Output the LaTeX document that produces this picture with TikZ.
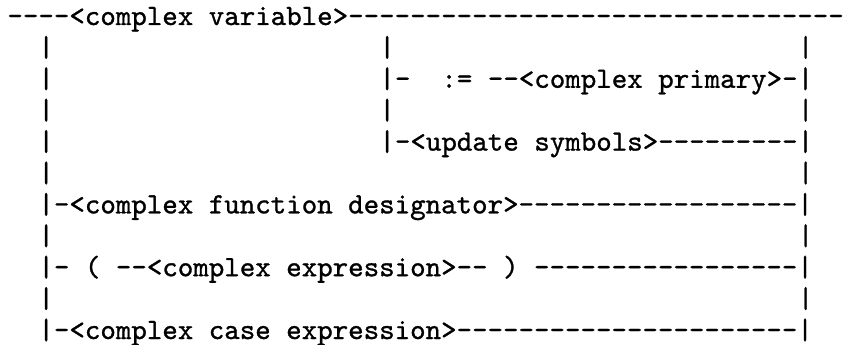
\documentclass[tikz,border=0pt]{standalone}
\usepackage{fontspec}
\setmonofont{lmmono10-regular.otf}[FakeBold=1]
\usepackage{tikz}
\usetikzlibrary{positioning}

% a run of typed hyphens
\newcommand{\hyphens}[1]{\foreach \i in {1,...,#1}{-}}

\begin{document}
\begin{tikzpicture}[x=15.5pt,y=-31.4pt,
    txt/.style={font=\ttfamily\fontsize{29.5}{30}\selectfont, inner sep=0pt, anchor=base west}]
  \useasboundingbox (-7.25pt,25pt) rectangle ++(846pt,-345pt);

  \node[txt] (cvar) at (0,0) {----<complex variable>\hyphens{32}};

  % rails
  \foreach \r in {1,3}
    \foreach \c in {2,24,51}
      \node[txt] (p-\r-\c) at (\c,\r) {|};
  \foreach \r in {2,4,5,7,9}
    \node[txt] (p-\r-2) at (2,\r) {|};
  \foreach \r in {5,7,9}
    \node[txt] (p-\r-51) at (51,\r) {|};

  % branches
  \node[txt] (assign) at (24,2) {|-~ := --<complex primary>-|};
  \node[txt] (update) at (24,4) {|-<update symbols>\hyphens{9}|};
  \node[txt] (fdes)   at (2,6)  {|-<complex function designator>\hyphens{18}|};
  \node[txt] (paren)  at (2,8)  {|- ( --<complex expression>-- ) \hyphens{17}|};
  \node[txt] (case)   at (2,10) {|-<complex case expression>\hyphens{22}|};
\end{tikzpicture}
\end{document}
